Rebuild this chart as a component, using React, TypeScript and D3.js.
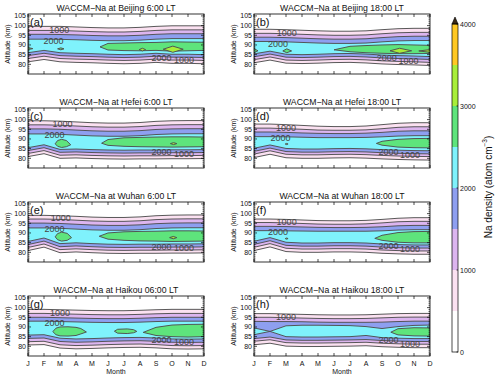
import React from "react";
import * as d3 from "d3";

// month tick labels (J .. D)
const monthLabels = ["J", "F", "M", "A", "M", "J", "J", "A", "S", "O", "N", "D"];
const altTicks = [80, 85, 90, 95, 100, 105];
const barTicks = [0, 1000, 2000, 3000, 4000];
// colour for each 500 step, 0-500 ... 3500-4000
const bandColors = ["#ffffff", "#fbe1f1", "#dcb5ef", "#8e9ff0", "#7ff2fc", "#5ee47c", "#a8ee3a", "#ffc823"];

// contour altitudes (km) per month: rows are the 500, 1000, 1500, 2000 levels
const bj06Top = [
  [99.6, 99.6, 99.6, 99.3, 99.0, 98.8, 98.8, 99.1, 99.6, 99.9, 99.9, 99.9],
  [97.5, 97.5, 97.5, 97.2, 96.9, 96.7, 96.7, 97.0, 97.5, 97.8, 97.8, 97.8],
  [95.5, 95.5, 95.4, 95.2, 94.9, 94.7, 94.7, 95.0, 95.5, 95.8, 95.8, 95.8],
  [93.0, 93.0, 92.9, 92.7, 92.4, 92.2, 92.2, 92.5, 93.0, 93.3, 93.3, 93.3],
];
const bj06Bottom = [
  [81.3, 82.5, 81.3, 81.0, 80.8, 80.5, 80.3, 80.5, 81.0, 80.5, 80.5, 80.3],
  [83.0, 84.2, 83.0, 82.7, 82.5, 82.2, 82.0, 82.2, 82.7, 82.2, 82.2, 82.0],
  [84.5, 85.7, 84.5, 84.2, 84.0, 83.7, 83.5, 83.7, 84.2, 83.7, 83.7, 83.5],
  [86.0, 87.2, 86.0, 85.7, 85.5, 85.2, 85.0, 85.2, 85.7, 85.2, 85.2, 85.0],
];
// closed regions: [month, lower km, upper km]
const bj06Green = [
  [[-0.3, 88.1, 88.1], [0, 87.6, 88.7], [0.3, 88.1, 88.1]],
  [[1.85, 88.0, 88.0], [2.05, 87.5, 88.5], [2.25, 88.0, 88.0]],
  [[4.5, 89.0, 89.0], [5, 87.4, 90.8], [6, 87.1, 91.0], [7, 87.0, 91.2], [8, 87.2, 91.3], [9, 86.8, 91.6], [10, 87.0, 91.5], [11, 87.2, 91.4]],
];
const bj06Yellow = [
  [[6.95, 87.6, 87.6], [7.15, 86.9, 88.3], [7.35, 87.6, 87.6]],
  [[8.45, 87.8, 87.8], [9.05, 86.2, 89.4], [9.7, 87.8, 87.8]],
];
const bj06Labels = [["1000", 1.95, 97.6], ["2000", 1.6, 92.1], ["2000", 8.35, 83.2], ["1000", 9.75, 82.2]];

const bj18Top = [
  [98.1, 98.1, 97.9, 97.6, 97.3, 97.1, 97.1, 97.3, 97.9, 98.4, 98.6, 98.6],
  [96.0, 96.0, 95.8, 95.5, 95.2, 95.0, 95.0, 95.2, 95.8, 96.3, 96.5, 96.5],
  [94.0, 94.0, 93.8, 93.5, 93.2, 93.0, 93.0, 93.2, 93.8, 94.3, 94.5, 94.5],
  [91.8, 91.8, 91.6, 91.3, 91.0, 90.8, 90.8, 91.0, 91.6, 92.1, 92.3, 92.3],
];
const bj18Bottom = [
  [80.8, 82.2, 80.6, 80.4, 80.6, 80.9, 81.0, 80.7, 80.2, 79.9, 79.7, 79.4],
  [82.4, 83.8, 82.2, 82.0, 82.2, 82.5, 82.6, 82.3, 81.8, 81.5, 81.3, 81.0],
  [83.9, 85.3, 83.7, 83.5, 83.7, 84.0, 84.1, 83.8, 83.3, 83.0, 82.8, 82.5],
  [85.4, 86.8, 85.2, 85.0, 85.2, 85.5, 85.6, 85.3, 84.8, 84.5, 84.3, 84.0],
];
const bj18Green = [
  [[-0.3, 87.0, 87.0], [0, 86.1, 88.1], [0.25, 87.0, 87.0]],
  [[1.8, 86.9, 86.9], [2.05, 86.0, 88.0], [2.35, 86.9, 86.9]],
  [[5.0, 87.5, 87.5], [6, 86.5, 89.3], [7, 86.0, 89.7], [8, 85.7, 90.0], [9, 85.5, 90.2], [10, 85.5, 90.0], [11, 85.6, 89.8]],
];
const bj18Yellow = [
  [[8.5, 87.0, 87.0], [9.1, 85.7, 88.3], [9.85, 87.0, 87.0]],
  [[10.3, 86.9, 86.9], [11, 86.2, 87.6], [11.3, 86.9, 86.9]],
];
const bj18Labels = [["1000", 2.05, 96.2], ["2000", 1.5, 90.7], ["2000", 8.3, 83.1], ["1000", 9.65, 81.8]];

const hf06Top = [
  [99.4, 99.4, 99.2, 98.8, 98.4, 98.2, 98.2, 98.5, 99.1, 99.4, 99.5, 99.5],
  [97.3, 97.3, 97.1, 96.7, 96.3, 96.1, 96.1, 96.4, 97.0, 97.3, 97.4, 97.4],
  [95.2, 95.2, 95.0, 94.6, 94.2, 94.0, 94.0, 94.3, 94.9, 95.2, 95.3, 95.3],
  [92.6, 92.6, 92.4, 92.0, 91.6, 91.4, 91.4, 91.7, 92.3, 92.6, 92.7, 92.7],
];
const hf06Bottom = [
  [80.9, 82.4, 80.0, 80.2, 79.9, 79.7, 79.6, 79.7, 79.7, 79.8, 79.8, 79.9],
  [82.5, 84.0, 81.6, 81.8, 81.5, 81.3, 81.2, 81.3, 81.3, 81.4, 81.4, 81.5],
  [84.0, 85.5, 83.1, 83.3, 83.0, 82.8, 82.7, 82.8, 82.8, 82.9, 82.9, 83.0],
  [85.5, 87.0, 84.6, 84.8, 84.5, 84.3, 84.2, 84.3, 84.3, 84.4, 84.4, 84.5],
];
const hf06Green = [
  [[1.7, 87.5, 87.5], [1.85, 86.2, 89.2], [2.1, 85.6, 89.8], [2.4, 86.0, 89.2], [2.67, 87.0, 87.0]],
  [[4.6, 87.8, 87.8], [5, 86.7, 89.7], [6, 86.2, 90.6], [7, 86.0, 90.8], [8, 85.9, 91.0], [9, 85.8, 91.1], [10, 85.9, 91.1], [11, 86.0, 91.0]],
];
const hf06Yellow = [[[8.9, 87.6, 87.6], [9.1, 87.1, 88.1], [9.3, 87.6, 87.6]]];
const hf06Labels = [["1000", 2.15, 97.5], ["2000", 1.65, 92.0], ["2000", 8.35, 83.1], ["1000", 9.75, 82.0]];

const hf18Top = [
  [97.7, 97.7, 97.4, 97.0, 96.6, 96.4, 96.4, 96.7, 97.4, 98.1, 98.4, 98.4],
  [95.6, 95.6, 95.3, 95.0, 94.6, 94.5, 94.5, 94.7, 95.3, 96.0, 96.3, 96.3],
  [93.6, 93.6, 93.4, 93.1, 92.9, 92.8, 92.8, 93.0, 93.4, 94.0, 94.2, 94.2],
  [91.2, 91.2, 91.1, 90.9, 90.7, 90.7, 90.7, 90.8, 91.1, 91.5, 91.7, 91.7],
];
const hf18Bottom = [
  [80.4, 82.1, 80.3, 80.0, 80.0, 80.2, 80.3, 80.1, 79.7, 79.4, 79.2, 79.1],
  [82.2, 83.9, 82.1, 81.8, 81.8, 82.0, 82.1, 81.9, 81.5, 81.2, 81.0, 80.9],
  [83.6, 85.3, 83.5, 83.2, 83.2, 83.4, 83.5, 83.3, 82.9, 82.6, 82.4, 82.3],
  [85.2, 86.9, 85.1, 84.8, 84.8, 85.0, 85.1, 84.9, 84.5, 84.2, 84.0, 83.9],
];
const hf18Green = [
  [[1.95, 87.4, 87.4], [2.04, 87.1, 87.7], [2.13, 87.4, 87.4]],
  [[7.65, 87.7, 87.7], [8, 86.8, 88.8], [9, 85.8, 89.8], [10, 85.5, 90.2], [11, 85.4, 90.3]],
];
const hf18Labels = [["1000", 2.0, 95.8], ["2000", 1.65, 90.3], ["2000", 8.4, 83.4], ["1000", 9.75, 81.7]];

const wh06Top = [
  [99.1, 99.1, 98.9, 98.6, 98.2, 98.0, 98.0, 98.3, 98.9, 99.2, 99.3, 99.3],
  [97.2, 97.2, 97.0, 96.6, 96.2, 96.0, 96.0, 96.3, 96.9, 97.2, 97.3, 97.3],
  [95.1, 95.1, 94.9, 94.5, 94.1, 93.9, 93.9, 94.2, 94.8, 95.1, 95.2, 95.2],
  [92.6, 92.6, 92.4, 92.0, 91.6, 91.4, 91.4, 91.7, 92.3, 92.6, 92.7, 92.7],
];
const wh06Bottom = [
  [80.9, 82.7, 79.8, 80.2, 79.8, 79.5, 79.4, 79.5, 79.5, 79.6, 79.6, 79.7],
  [82.5, 84.3, 81.4, 81.8, 81.4, 81.1, 81.0, 81.1, 81.1, 81.2, 81.2, 81.3],
  [84.0, 85.8, 82.9, 83.3, 82.9, 82.6, 82.5, 82.6, 82.6, 82.7, 82.7, 82.8],
  [85.6, 87.4, 84.5, 84.9, 84.5, 84.2, 84.1, 84.2, 84.2, 84.3, 84.3, 84.4],
];
const wh06Green = [
  [[1.7, 88.0, 88.0], [1.85, 86.5, 89.7], [2.1, 85.8, 90.4], [2.45, 86.2, 89.8], [2.72, 87.6, 87.6]],
  [[4.45, 88.3, 88.3], [5, 86.8, 90.0], [6, 86.2, 90.6], [7, 85.9, 90.8], [8, 85.8, 90.9], [9, 85.6, 91.1], [10, 85.7, 91.1], [11, 85.8, 91.0]],
];
const wh06Yellow = [[[8.85, 87.6, 87.6], [9.08, 87.0, 88.2], [9.3, 87.6, 87.6]]];
const wh06Labels = [["1000", 2.05, 97.6], ["2000", 1.65, 92.1], ["2000", 8.35, 83.0], ["1000", 9.75, 82.0]];

const wh18Top = [
  [97.2, 97.2, 97.0, 96.7, 96.4, 96.3, 96.3, 96.5, 97.0, 97.6, 97.9, 97.9],
  [95.4, 95.4, 95.2, 94.9, 94.6, 94.5, 94.5, 94.7, 95.2, 95.8, 96.0, 96.0],
  [93.4, 93.4, 93.3, 93.1, 92.9, 92.8, 92.8, 92.9, 93.2, 93.7, 93.9, 93.9],
  [91.2, 91.2, 91.1, 91.0, 90.9, 90.9, 90.9, 90.9, 91.1, 91.5, 91.7, 91.7],
];
const wh18Bottom = [
  [80.9, 82.8, 80.4, 80.0, 80.0, 80.2, 80.2, 80.0, 79.5, 79.2, 79.0, 79.0],
  [82.6, 84.5, 82.1, 81.7, 81.7, 81.9, 81.9, 81.7, 81.2, 80.9, 80.7, 80.7],
  [84.1, 86.0, 83.6, 83.2, 83.2, 83.4, 83.4, 83.2, 82.7, 82.4, 82.2, 82.2],
  [85.7, 87.6, 85.2, 84.8, 84.8, 85.0, 85.0, 84.8, 84.3, 84.0, 83.8, 83.8],
];
const wh18Green = [
  [[1.95, 87.1, 87.1], [2.04, 86.8, 87.4], [2.13, 87.1, 87.1]],
  [[7.55, 87.2, 87.2], [8, 86.2, 88.8], [9, 85.2, 90.2], [10, 84.9, 90.7], [11, 84.9, 90.8]],
];
const wh18Labels = [["1000", 2.04, 95.8], ["2000", 1.5, 90.3], ["2000", 8.4, 83.2], ["1000", 9.75, 81.5]];

const hk06Top = [
  [99.1, 99.1, 98.9, 98.7, 98.5, 98.4, 98.4, 98.6, 98.9, 99.1, 99.1, 99.1],
  [97.0, 97.0, 96.8, 96.6, 96.4, 96.3, 96.3, 96.5, 96.8, 97.0, 97.0, 97.0],
  [95.0, 95.0, 94.8, 94.6, 94.4, 94.3, 94.3, 94.5, 94.8, 95.0, 95.0, 95.0],
  [93.0, 93.0, 92.8, 92.6, 92.4, 92.3, 92.3, 92.5, 92.8, 93.0, 93.0, 93.0],
];
const hk06Bottom = [
  [80.7, 80.9, 79.1, 78.7, 78.9, 79.2, 79.4, 79.5, 79.2, 78.7, 78.6, 78.7],
  [82.4, 82.6, 80.8, 80.4, 80.6, 80.9, 81.1, 81.2, 80.9, 80.4, 80.3, 80.4],
  [84.1, 84.3, 82.5, 82.1, 82.3, 82.6, 82.8, 82.9, 82.6, 82.1, 82.0, 82.1],
  [85.8, 86.0, 84.2, 83.8, 84.0, 84.3, 84.5, 84.6, 84.3, 83.8, 83.7, 83.8],
];
const hk06Green = [
  [[1.55, 87.6, 87.6], [1.75, 86.0, 89.4], [2, 85.4, 90.0], [2.5, 85.3, 90.1], [3, 85.6, 89.8], [3.3, 86.4, 89.2], [3.65, 87.4, 87.4]],
  [[5.4, 87.8, 87.8], [5.6, 86.8, 88.8], [6.2, 86.6, 89.0], [6.6, 87.0, 88.6], [6.8, 87.7, 87.7]],
  [[7.2, 87.2, 87.2], [8, 85.6, 89.8], [9, 85.0, 91.0], [10, 84.8, 91.3], [11, 85.0, 91.4]],
];
const hk06Labels = [["1000", 2.0, 97.3], ["2000", 1.65, 91.8], ["2000", 8.35, 83.3], ["1000", 9.75, 82.3]];

const hk18Top = [
  [96.9, 96.9, 96.7, 96.5, 96.3, 96.2, 96.2, 96.3, 96.6, 96.9, 97.0, 97.0],
  [95.0, 95.0, 94.8, 94.6, 94.4, 94.3, 94.3, 94.4, 94.7, 95.0, 95.1, 95.1],
  [92.9, 92.8, 92.8, 92.7, 92.5, 92.4, 92.4, 92.4, 92.5, 92.8, 93.0, 93.0],
  [89.5, 87.7, 90.6, 90.9, 90.9, 90.8, 90.7, 90.2, 89.2, 90.2, 90.8, 91.0],
];
const hk18Bottom = [
  [80.8, 81.6, 80.1, 79.9, 79.9, 80.0, 80.1, 80.3, 79.8, 79.5, 79.3, 79.3],
  [82.6, 83.4, 81.9, 81.7, 81.7, 81.8, 81.9, 82.1, 81.6, 81.3, 81.1, 81.1],
  [84.0, 84.8, 83.3, 83.1, 83.1, 83.2, 83.3, 83.5, 83.0, 82.7, 82.5, 82.5],
  [86.0, 87.7, 85.0, 84.8, 84.8, 84.9, 85.0, 85.6, 84.5, 84.2, 84.0, 84.0],
];
const hk18Green = [[[8.55, 87.3, 87.3], [9, 85.9, 89.1], [10, 85.4, 89.6], [11, 85.3, 89.5]]];
const hk18Labels = [["1000", 2.0, 95.0], ["2000", 8.4, 83.3], ["1000", 9.75, 81.2]];

const panels = [
  { tag: "(a)", title: "WACCM\u2212Na at Beijing 6:00 LT", top: bj06Top, bottom: bj06Bottom, green: bj06Green, yellow: bj06Yellow, labels: bj06Labels },
  { tag: "(b)", title: "WACCM\u2212Na at Beijing 18:00 LT", top: bj18Top, bottom: bj18Bottom, green: bj18Green, yellow: bj18Yellow, labels: bj18Labels },
  { tag: "(c)", title: "WACCM\u2212Na at Hefei 6:00 LT", top: hf06Top, bottom: hf06Bottom, green: hf06Green, yellow: hf06Yellow, labels: hf06Labels },
  { tag: "(d)", title: "WACCM\u2212Na at Hefei 18:00 LT", top: hf18Top, bottom: hf18Bottom, green: hf18Green, yellow: [], labels: hf18Labels },
  { tag: "(e)", title: "WACCM\u2212Na at Wuhan 6:00 LT", top: wh06Top, bottom: wh06Bottom, green: wh06Green, yellow: wh06Yellow, labels: wh06Labels },
  { tag: "(f)", title: "WACCM\u2212Na at Wuhan 18:00 LT", top: wh18Top, bottom: wh18Bottom, green: wh18Green, yellow: [], labels: wh18Labels },
  { tag: "(g)", title: "WACCM\u2212Na at Haikou 06:00 LT", top: hk06Top, bottom: hk06Bottom, green: hk06Green, yellow: [], labels: hk06Labels },
  { tag: "(h)", title: "WACCM\u2212Na at Haikou 18:00 LT", top: hk18Top, bottom: hk18Bottom, green: hk18Green, yellow: [], labels: hk18Labels },
];

const W = 176;
const H = 60;
const colX = [28, 254];
const rowY = [14, 108, 202, 296];
const FONT = "'Liberation Sans', Arial, Helvetica, sans-serif";
const LINE = "#4f4f4f";

function Panel({ p, x0, y0, idx, showMonths }: any) {
  const x = d3.scaleLinear().domain([0, 11]).range([0, W]);
  const y = d3.scaleLinear().domain([75, 106]).range([H, 0]);
  const band = (lo: number[], hi: number[]) =>
    d3.area<number>().x((_, i) => x(i)).y0((_, i) => y(lo[i])).y1((_, i) => y(hi[i]))(lo) || "";
  const blob = d3.area<number[]>().x((d) => x(d[0])).y0((d) => y(d[1])).y1((d) => y(d[2]));
  const minor = d3.range(76, 106).filter((v) => v % 5 !== 0);
  const clip = "clip" + idx;

  return (
    <g transform={`translate(${x0},${y0})`}>
      <text x={W / 2} y={-3.5} fontSize={8.7} textAnchor="middle" fill="#111">{p.title}</text>
      <defs>
        <clipPath id={clip}><rect width={W} height={H} /></clipPath>
      </defs>
      <rect width={W} height={H} fill="#fff" />
      <g clipPath={`url(#${clip})`}>
        {p.top.map((hi: number[], k: number) => (
          <path key={"b" + k} d={band(p.bottom[k], hi)} fill={bandColors[k + 1]} stroke={LINE} strokeWidth={0.95} />
        ))}
        {p.green.map((g: number[][], k: number) => (
          <path key={"g" + k} d={blob(g) || ""} fill={bandColors[5]} stroke={LINE} strokeWidth={0.95} />
        ))}
        {p.yellow.map((g: number[][], k: number) => (
          <path key={"y" + k} d={blob(g) || ""} fill={bandColors[6]} stroke={LINE} strokeWidth={0.95} />
        ))}
        {p.labels.map((l: any[], k: number) => (
          <text key={"l" + k} x={x(l[1])} y={y(l[2])} fontSize={9} textAnchor="middle" dominantBaseline="central" fill="#444">{l[0]}</text>
        ))}
      </g>
      <rect width={W} height={H} fill="none" stroke="#000" strokeWidth={0.8} />
      {d3.range(12).map((m) => (
        <g key={"xt" + m} stroke="#000" strokeWidth={0.7}>
          <line x1={x(m)} x2={x(m)} y1={H} y2={H - 3} />
          <line x1={x(m)} x2={x(m)} y1={0} y2={3} />
        </g>
      ))}
      {altTicks.map((t) => (
        <g key={"yt" + t}>
          <line x1={0} x2={3} y1={y(t)} y2={y(t)} stroke="#000" strokeWidth={0.7} />
          <line x1={W} x2={W - 3} y1={y(t)} y2={y(t)} stroke="#000" strokeWidth={0.7} />
          <text x={-2} y={y(t)} fontSize={7} textAnchor="end" dominantBaseline="central" fill="#111">{t}</text>
        </g>
      ))}
      {minor.map((t) => (
        <g key={"ym" + t} stroke="#000" strokeWidth={0.6}>
          <line x1={0} x2={1.5} y1={y(t)} y2={y(t)} />
          <line x1={W} x2={W - 1.5} y1={y(t)} y2={y(t)} />
        </g>
      ))}
      <text transform={`translate(${-21},${H / 2}) rotate(-90)`} fontSize={7} textAnchor="middle" dominantBaseline="central" fill="#111">Altitude (km)</text>
      <text x={2} y={12} fontSize={11} fill="#111">{p.tag}</text>
      {showMonths && (
        <g>
          {monthLabels.map((m, i) => (
            <text key={"ml" + i} x={x(i)} y={H + 9.5} fontSize={7} textAnchor="middle" fill="#111">{m}</text>
          ))}
          <text x={W / 2} y={H + 18} fontSize={7} textAnchor="middle" fill="#111">Month</text>
        </g>
      )}
    </g>
  );
}

function ColorBar() {
  const yb = d3.scaleLinear().domain([0, 4000]).range([352, 24]);
  const steps = d3.range(0, 4000, 500);
  return (
    <g>
      {steps.map((v, i) => (
        <rect key={v} x={452} y={yb(v + 500)} width={6} height={yb(v) - yb(v + 500)} fill={bandColors[i]} />
      ))}
      <path d={`M452,${yb(4000)}L455,${yb(4000) - 7}L458,${yb(4000)}Z`} fill="#3a2a18" stroke="#000" strokeWidth={0.6} />
      <rect x={452} y={yb(4000)} width={6} height={yb(0) - yb(4000)} fill="none" stroke="#000" strokeWidth={0.7} />
      {barTicks.map((t) => (
        <g key={t}>
          <line x1={456.5} x2={458} y1={yb(t)} y2={yb(t)} stroke="#000" strokeWidth={0.7} />
          <text x={460} y={yb(t)} fontSize={7} dominantBaseline="central" fill="#111">{t}</text>
        </g>
      ))}
      <text transform="translate(488,187) rotate(-90)" fontSize={10} textAnchor="middle" dominantBaseline="central" fill="#111">
        Na density (atom cm<tspan fontSize={6.5} dy={-4}>−3</tspan><tspan dy={4}>)</tspan>
      </text>
    </g>
  );
}

export default function App() {
  return (
    <div style={{ position: "absolute", left: 0, top: 0 }}>
      <svg width={500} height={378} style={{ display: "block", fontFamily: FONT }}>
        <rect width={500} height={378} fill="#fff" />
        {panels.map((p, i) => (
          <Panel key={i} p={p} idx={i} x0={colX[i % 2]} y0={rowY[Math.floor(i / 2)]} showMonths={i >= 6} />
        ))}
        <ColorBar />
      </svg>
    </div>
  );
}
